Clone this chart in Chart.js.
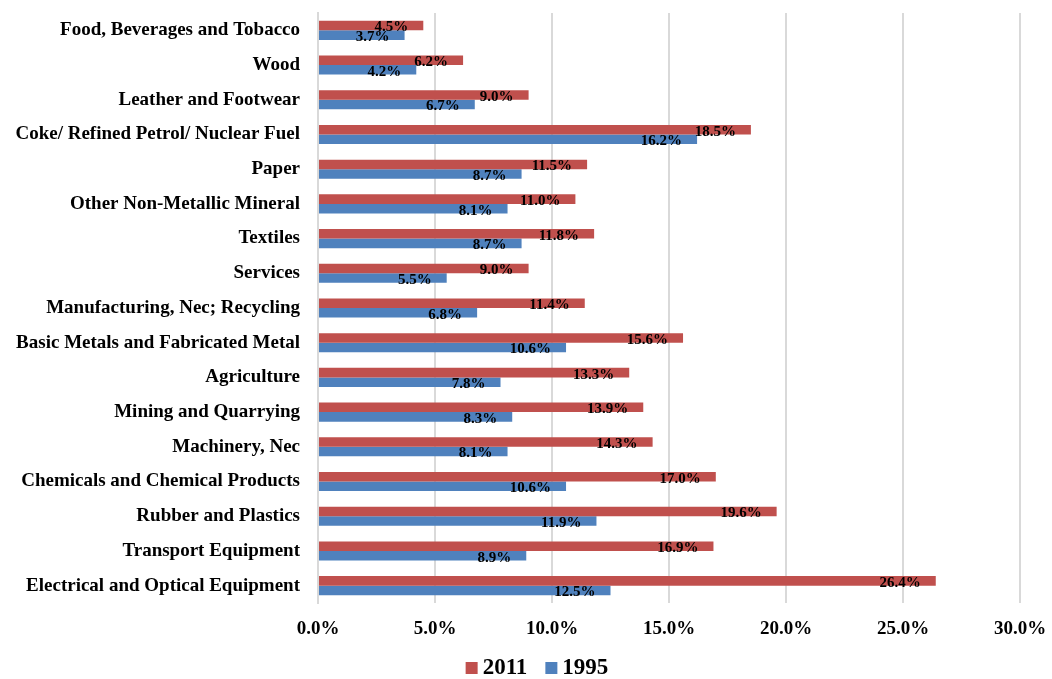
<!DOCTYPE html>
<html>
<head>
<meta charset="utf-8">
<script src="https://cdn.jsdelivr.net/npm/chart.js@4/dist/chart.umd.min.js"></script>
<style>
  html, body { margin: 0; padding: 0; background: #fff; }
  #wrap { width: 1052px; height: 679px; }
</style>
</head>
<body>
<div id="wrap"><canvas id="bar-chart"></canvas></div>
<script>
// sectors, top to bottom
var sectors = [
    "Food, Beverages and Tobacco",
    "Wood",
    "Leather and Footwear",
    "Coke/ Refined Petrol/ Nuclear Fuel",
    "Paper",
    "Other Non-Metallic Mineral",
    "Textiles",
    "Services",
    "Manufacturing, Nec; Recycling",
    "Basic Metals and Fabricated Metal",
    "Agriculture",
    "Mining and Quarrying",
    "Machinery, Nec",
    "Chemicals and Chemical Products",
    "Rubber and Plastics",
    "Transport Equipment",
    "Electrical and Optical Equipment"
];

// shares in percent
var share2011 = [4.5, 6.2, 9.0, 18.5, 11.5, 11.0, 11.8, 9.0, 11.4, 15.6, 13.3, 13.9, 14.3, 17.0, 19.6, 16.9, 26.4];
var share1995 = [3.7, 4.2, 6.7, 16.2, 8.7, 8.1, 8.7, 5.5, 6.8, 10.6, 7.8, 8.3, 8.1, 10.6, 11.9, 8.9, 12.5];

var xTicks = [0, 5, 10, 15, 20, 25, 30];

var FONT = "'Liberation Serif', serif";

// value labels at the end of each bar
var barLabels = {
    id: 'barLabels',
    afterDatasetsDraw: function (chart) {
        var ctx = chart.ctx;
        ctx.save();
        ctx.font = "bold 15px " + FONT;
        ctx.fillStyle = "#000";
        ctx.textAlign = "right";
        ctx.textBaseline = "middle";
        chart.data.datasets.forEach(function (ds, i) {
            var meta = chart.getDatasetMeta(i);
            meta.data.forEach(function (bar, j) {
                ctx.fillText(ds.data[j].toFixed(1) + "%", bar.x - 15, bar.y + 2);
            });
        });
        ctx.restore();
    }
};

// legend row under the axis: square swatch + year
var bottomLegend = {
    id: 'bottomLegend',
    afterDraw: function (chart) {
        var ctx = chart.ctx;
        var sets = chart.data.datasets;
        var box = 12, gap = 5, spacing = 18;
        ctx.save();
        ctx.font = "bold 23px " + FONT;
        ctx.textBaseline = "middle";
        ctx.textAlign = "left";
        var total = 0;
        sets.forEach(function (ds, i) {
            total += box + gap + ctx.measureText(ds.label).width;
            if (i < sets.length - 1) total += spacing;
        });
        var x = 537 - total / 2;
        var y = 668;
        sets.forEach(function (ds) {
            ctx.fillStyle = ds.backgroundColor;
            ctx.fillRect(x, y - box / 2, box, box);
            x += box + gap;
            ctx.fillStyle = "#000";
            ctx.fillText(ds.label, x, y);
            x += ctx.measureText(ds.label).width + spacing;
        });
        ctx.restore();
    }
};

const databar = {
    labels: sectors,
    datasets: [{
        label: "2011",
        data: share2011,
        backgroundColor: "#C0504D"
    }, {
        label: "1995",
        data: share1995,
        backgroundColor: "#4F81BD"
    }]
};

const configbar = {
    type: 'bar',
    data: databar,
    options: {
        indexAxis: 'y',
        responsive: true,
        maintainAspectRatio: false,
        animation: false,
        datasets: {
            bar: {
                categoryPercentage: 0.55,
                barPercentage: 1.0
            }
        },
        layout: {
            padding: { left: 0, right: 32, top: 13, bottom: 36 }
        },
        scales: {
            x: {
                min: 0,
                max: 30,
                afterBuildTicks: function (scale) {
                    scale.ticks = xTicks.map(function (v) { return { value: v }; });
                },
                afterFit: function (scale) {
                    scale.height = 40;
                    scale.paddingLeft = 0;
                    scale.paddingRight = 0;
                },
                ticks: {
                    color: "#000",
                    padding: 15,
                    maxRotation: 0,
                    font: { family: FONT, size: 19, weight: 'bold' },
                    callback: function (v) { return v.toFixed(1) + "%"; }
                },
                grid: {
                    color: "#D9D9D9",
                    lineWidth: 2,
                    drawTicks: false
                },
                border: { display: false }
            },
            y: {
                afterFit: function (scale) {
                    scale.width = 318;
                    scale.paddingTop = 0;
                    scale.paddingBottom = 0;
                },
                ticks: {
                    color: "#000",
                    padding: 18,
                    font: { family: FONT, size: 19, weight: 'bold' }
                },
                grid: { display: false, drawTicks: false },
                border: { color: "#D9D9D9", width: 2 }
            }
        },
        plugins: {
            legend: { display: false },
            tooltip: { enabled: false }
        }
    },
    plugins: [barLabels, bottomLegend]
};

const myChart1 = new Chart(document.getElementById('bar-chart'), configbar);
</script>
</body>
</html>
